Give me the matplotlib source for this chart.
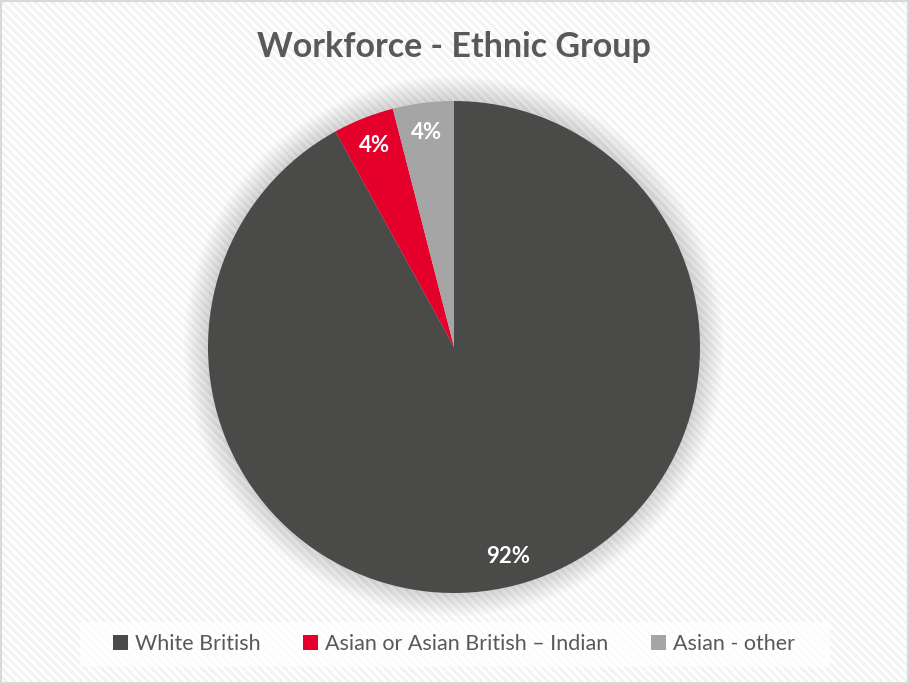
import matplotlib.pyplot as plt
from matplotlib.patches import Rectangle, Circle

plt.rcParams['font.family'] = ['Lato', 'DejaVu Sans']
plt.rcParams['hatch.linewidth'] = 2.0

groups = ['White British', 'Asian or Asian British \u2013 Indian', 'Asian - other']
shares = [92, 4, 4]
colours = ['#4a4a48', '#e4002b', '#a5a5a5']

fig = plt.figure(figsize=(9.09, 6.84), dpi=100)

# striped chart area background and thin border
fig.patches.append(Rectangle((0, 0), 1, 1, transform=fig.transFigure,
                             facecolor='white', edgecolor='#f3f3f3',
                             hatch='\\\\\\\\', linewidth=0, zorder=-10))
fig.patches.append(Rectangle((0.0008, 0.001), 0.9984, 0.998, transform=fig.transFigure,
                             facecolor='none', edgecolor='#d9d9d9',
                             linewidth=1.5, zorder=-9))
# legend panel
fig.patches.append(Rectangle((80 / 909, 1 - 667 / 684), 750 / 909, 45 / 684,
                             transform=fig.transFigure, facecolor='white',
                             alpha=0.8, linewidth=0, zorder=-8))

ax = fig.add_axes([208 / 909, 91 / 684, 492 / 909, 492 / 684])

# soft glow behind the pie
for i in range(20):
    ax.add_patch(Circle((0, 0.003), 1 + 0.005 * (i + 1), facecolor='black',
                        alpha=0.008, linewidth=0, zorder=0, clip_on=False))

wedges, texts, autotexts = ax.pie(
    shares, colors=colours, startangle=90, counterclock=False,
    autopct='%.0f%%', pctdistance=0.88, radius=1,
    wedgeprops=dict(linewidth=0, zorder=2),
    textprops=dict(color='white', fontsize=16, fontweight='bold'))
for t in autotexts:
    t.set_zorder(3)
ax.set_xlim(-1, 1)
ax.set_ylim(-1, 1)
ax.set_aspect('equal')
ax.axis('off')

fig.text(454 / 909, 1 - 47 / 684, 'Workforce - Ethnic Group', ha='center',
         va='center', fontsize=24.5, fontweight='bold', color='#595959')

leg = fig.legend(wedges, groups, loc='center', bbox_to_anchor=(454 / 909, 1 - 644 / 684),
                 ncol=3, frameon=False, fontsize=15.5, handlelength=0.7,
                 handleheight=0.7, handletextpad=0.3, columnspacing=2.0,
                 labelcolor='#595959')

fig.savefig('out.png', dpi=100)
